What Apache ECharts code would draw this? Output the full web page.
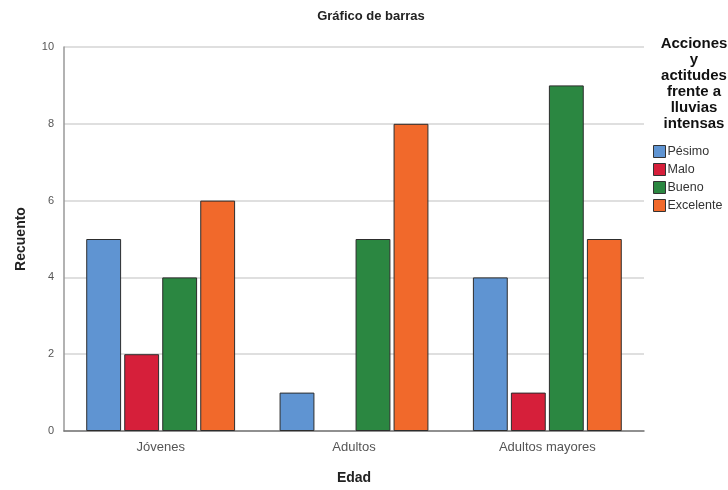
<!DOCTYPE html>
<html>
<head>
<meta charset="utf-8">
<script src="https://cdn.jsdelivr.net/npm/echarts@6/dist/echarts.min.js"></script>
<style>
  html, body { margin: 0; padding: 0; background: #fff; }
  #chart { width: 728px; height: 490px; }
</style>
</head>
<body>
<div id="chart"></div>
<script>
// data
const categories = ['Jóvenes', 'Adultos', 'Adultos mayores']
const seriesNames = ['Pésimo', 'Malo', 'Bueno', 'Excelente']
const pesimo = [5, 1, 4]
const malo = [2, 0, 1]
const bueno = [4, 5, 9]
const excelente = [6, 8, 5]
const colors = ['#5f94d2', '#d61f3a', '#2b8741', '#f1692b']

const chart = echarts.init(document.getElementById('chart'))

const values = [pesimo, malo, bueno, excelente]
const series = seriesNames.map((name, i) => ({
  name: name,
  type: 'bar',
  // empty bars get no outline
  data: values[i].map(v => (v === 0 ? { value: v, itemStyle: { borderWidth: 0 } } : v)),
  barGap: '9%',
  barCategoryGap: '23%',
  itemStyle: {
    color: colors[i],
    borderColor: '#2d2d2d',
    borderWidth: 1
  },
  emphasis: { disabled: true }
}))

const option = {
  animation: false,
  color: colors,
  title: [
    {
      text: 'Gráfico de barras',
      left: 366,
      top: 5,
      textAlign: 'center',
      textStyle: { fontFamily: 'Liberation Sans', fontSize: 13, fontWeight: 'bold', color: '#222' }
    },
    {
      text: 'Acciones\ny\nactitudes\nfrente a\nlluvias\nintensas',
      left: 689,
      top: 31,
      textAlign: 'center',
      textStyle: { fontFamily: 'Liberation Sans', fontSize: 15, fontWeight: 'bold', color: '#111', lineHeight: 16 }
    }
  ],
  legend: {
    data: seriesNames,
    orient: 'vertical',
    left: 648,
    top: 140,
    icon: 'rect',
    itemWidth: 12,
    itemHeight: 12,
    itemGap: 5,
    itemStyle: { borderColor: '#333', borderWidth: 1 },
    textStyle: { fontFamily: 'Liberation Sans', fontSize: 12.5, color: '#333', padding: [0, 0, 0, -3] }
  },
  grid: {
    left: 64,
    right: 84,
    top: 47,
    bottom: 58
  },
  xAxis: {
    type: 'category',
    data: categories,
    name: 'Edad',
    nameLocation: 'middle',
    nameGap: 40,
    nameTextStyle: { fontFamily: 'Liberation Sans', fontSize: 14, fontWeight: 'bold', color: '#222' },
    axisLine: { lineStyle: { color: '#777', width: 1.5 } },
    axisTick: { show: false },
    axisLabel: { fontFamily: 'Liberation Sans', fontSize: 13, color: '#555', margin: 10 }
  },
  yAxis: {
    type: 'value',
    min: 0,
    max: 10,
    interval: 2,
    name: 'Recuento',
    nameLocation: 'middle',
    nameGap: 36,
    nameTextStyle: { fontFamily: 'Liberation Sans', fontSize: 14, fontWeight: 'bold', color: '#222' },
    axisLine: { show: true, lineStyle: { color: '#999', width: 1.5 } },
    axisTick: { show: false },
    axisLabel: { fontFamily: 'Liberation Sans', fontSize: 11, color: '#555', margin: 10 },
    splitLine: { lineStyle: { color: '#d4d4d4', width: 1.5 } }
  },
  series: series
}

chart.setOption(option)
</script>
</body>
</html>
